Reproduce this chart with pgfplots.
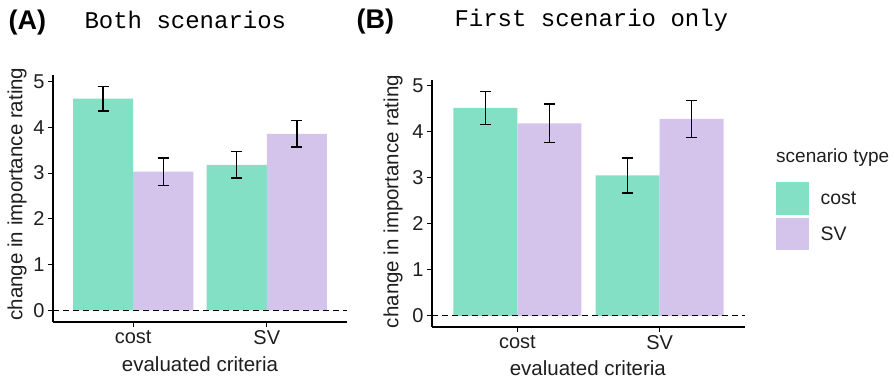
\documentclass[border=0pt]{standalone}
\usepackage{pgfplots}
\usepackage{pgfplotstable}
\pgfplotsset{compat=1.18}
\usepackage{fontspec}
\setmainfont{Liberation Sans}
\newfontfamily\monofont{Liberation Mono}
\definecolor{cgreen}{RGB}{132,224,196}
\definecolor{cpurple}{RGB}{212,196,236}
\definecolor{txt}{RGB}{30,30,30}

\pgfplotstableread{
x y e
1 4.63 0.27
2 3.18 0.29
}\Agreen
\pgfplotstableread{
x y e
1 3.03 0.30
2 3.86 0.29
}\Apurple
\pgfplotstableread{
x y e
1 4.52 0.36
2 3.05 0.38
}\Bgreen
\pgfplotstableread{
x y e
1 4.18 0.42
2 4.28 0.40
}\Bpurple

\pgfplotsset{
 myaxis/.style={
  scale only axis, anchor=south west,
  xmin=0.4, xmax=2.6,
  ytick={0,...,5},
  xtick={1,2}, xticklabels={cost,SV},
  axis x line*=bottom, axis y line*=left,
  axis line style={line width=1.1pt,-},
  tick align=outside, major tick length=5pt,
  tick style={line width=1.1pt, black},
  /pgf/number format/assume math mode=true,
  ticklabel style={font=\fontsize{20}{22}\selectfont, text=txt},
  label style={font=\fontsize{20.5}{24}\selectfont, text=txt},
  xlabel={evaluated criteria},
  ylabel={change in importance rating},
 },
 mybar/.style={ybar, bar width=0.45, bar shift=0, draw=none, fill=#1,
  error bars/y dir=both, error bars/y explicit,
  error bars/error bar style={line width=1.4pt, black},
  error bars/error mark options={rotate=90, mark size=5.5pt, line width=1.4pt, black}},
 zeroline/.style={black, line width=1.2pt, dash pattern=on 5.5pt off 4.5pt, no marks},
}

\begin{document}
\begin{tikzpicture}
\useasboundingbox (0pt,0pt) rectangle (894pt,379pt);

\node[anchor=west, font=\fontsize{27}{30}\selectfont\bfseries] at (5pt,356pt) {(A)};
\node[anchor=west, font=\monofont\fontsize{24}{26}\selectfont] at (81pt,359pt) {Both scenarios};
\node[anchor=west, font=\fontsize{27}{30}\selectfont\bfseries] at (353pt,357pt) {(B)};
\node[anchor=west, font=\monofont\fontsize{24}{26}\selectfont] at (451pt,359pt) {First scenario only};

\begin{axis}[myaxis, at={(53pt,57pt)}, width=294pt, height=247pt,
  ymin=-0.255, ymax=5.145,
  ylabel style={at={(axis description cs:-0.1224,0.518)}, anchor=center},
  xlabel style={at={(axis description cs:0.5,-0.172)}, anchor=center}]
\addplot[mybar=cgreen] table[x expr=\thisrow{x}-0.225, y=y, y error=e] {\Agreen};
\addplot[mybar=cpurple] table[x expr=\thisrow{x}+0.225, y=y, y error=e] {\Apurple};
\addplot[zeroline] coordinates {(0.4,0) (2.6,0)};
\end{axis}

\begin{axis}[myaxis, at={(432pt,52pt)}, width=313pt, height=247pt,
  ymin=-0.244, ymax=5.124,
  ylabel style={at={(axis description cs:-0.1246,0.508)}, anchor=center},
  xlabel style={at={(axis description cs:0.498,-0.168)}, anchor=center}]
\addplot[mybar=cgreen] table[x expr=\thisrow{x}-0.225, y=y, y error=e] {\Bgreen};
\addplot[mybar=cpurple] table[x expr=\thisrow{x}+0.225, y=y, y error=e] {\Bpurple};
\addplot[zeroline] coordinates {(0.4,0) (2.6,0)};
\end{axis}

\node[anchor=west, font=\fontsize{19}{22}\selectfont, text=txt, inner sep=1pt] at (775pt,221pt) {scenario type};
\fill[cgreen] (776pt,164pt) rectangle (809pt,197pt);
\fill[cpurple] (776pt,129pt) rectangle (809pt,161pt);
\node[anchor=west, font=\fontsize{19.5}{22}\selectfont, text=txt] at (817pt,181pt) {cost};
\node[anchor=west, font=\fontsize{19.5}{22}\selectfont, text=txt] at (817pt,145pt) {SV};
\end{tikzpicture}
\end{document}
